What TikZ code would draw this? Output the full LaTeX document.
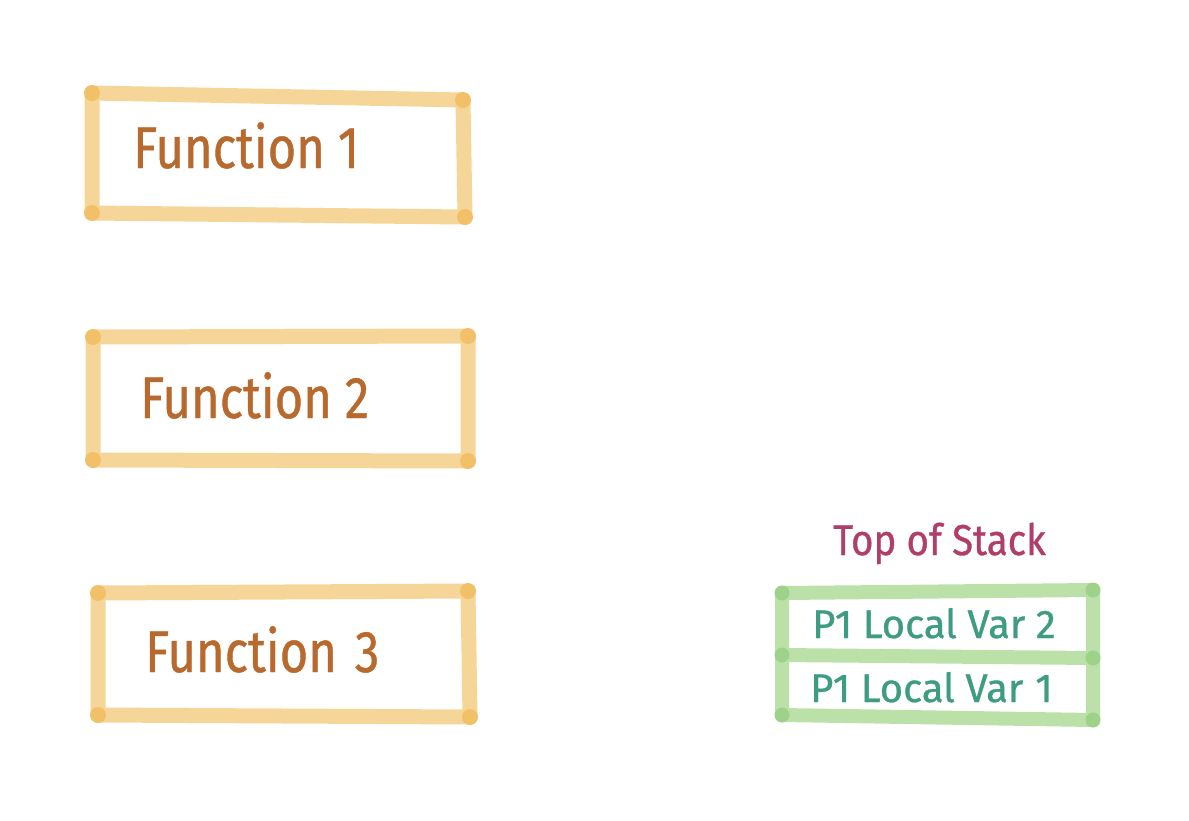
\documentclass[tikz,border=0pt]{standalone}
\usepackage{fontspec}
\newfontfamily\hand{Fira Sans}[FakeBold=0.8]
\definecolor{oline}{RGB}{246,214,152}
\definecolor{odot}{RGB}{241,192,104}
\definecolor{otext}{RGB}{184,106,46}
\definecolor{gline}{RGB}{188,225,168}
\definecolor{gdot}{RGB}{158,209,138}
\definecolor{gtext}{RGB}{62,156,130}
\definecolor{mtext}{RGB}{176,62,106}
\tikzset{
  obox/.style={draw=oline,line width=15pt,line cap=round,line join=round},
  gbox/.style={draw=gline,line width=14pt,line cap=round,line join=round},
  odotst/.style={fill=odot,draw=none},
  gdotst/.style={fill=gdot,draw=none},
  ftext/.style={anchor=base west,inner sep=0pt,text=otext,font=\hand\fontsize{49}{50}\selectfont,yscale=1.2},
  gtextst/.style={anchor=base west,inner sep=0pt,text=gtext,font=\hand\fontsize{40}{42}\selectfont},
  mtextst/.style={anchor=base west,inner sep=0pt,text=mtext,font=\hand\fontsize{38.5}{42}\selectfont,yscale=1.12}
}
\begin{document}
\begin{tikzpicture}[x=1pt,y=-1pt]
\useasboundingbox[fill=white] (0,0) rectangle (1189,820);
% Box 1
\coordinate (a1) at (92,93); \coordinate (b1) at (463,100);
\coordinate (c1) at (465,217); \coordinate (d1) at (92,213);
\draw[obox] (a1) -- (b1) -- (c1) -- (d1) -- cycle;
\foreach \p in {a1,b1,c1,d1} \fill[odotst] (\p) circle (8);
\node[ftext] (f1) at (133,168) {Function 1};
% Box 2
\coordinate (a2) at (93,337); \coordinate (b2) at (468,336);
\coordinate (c2) at (468,461); \coordinate (d2) at (93,460);
\draw[obox] (a2) -- (b2) -- (c2) -- (d2) -- cycle;
\foreach \p in {a2,b2,c2,d2} \fill[odotst] (\p) circle (8);
\node[ftext] (f2) at (140,418) {Function 2};
% Box 3
\coordinate (a3) at (98,593); \coordinate (b3) at (468,591);
\coordinate (c3) at (470,717); \coordinate (d3) at (98,715);
\draw[obox] (a3) -- (b3) -- (c3) -- (d3) -- cycle;
\foreach \p in {a3,b3,c3,d3} \fill[odotst] (\p) circle (8);
\node[ftext] (f3) at (145,672) {Function\hspace{18pt}3};
% Stack
\node[mtextst] (top) at (833,555) {Top of Stack};
\coordinate (ga) at (782,593); \coordinate (gb) at (1093,590);
\coordinate (gc) at (1093,658); \coordinate (gd) at (782,655);
\coordinate (ge) at (1093,720); \coordinate (gf) at (782,715);
\draw[gbox] (ga) -- (gb) -- (gc) -- (ge) -- (gf) -- (gd) -- cycle;
\draw[gbox] (gd) -- (gc);
\foreach \p in {ga,gb,gc,gd,ge,gf} \fill[gdotst] (\p) circle (7.5);
\node[gtextst] (v2) at (812,638) {P1 Local Var 2};
\node[gtextst] (v1) at (810,702) {P1 Local Var\hspace{12pt}1};
\end{tikzpicture}
\end{document}
